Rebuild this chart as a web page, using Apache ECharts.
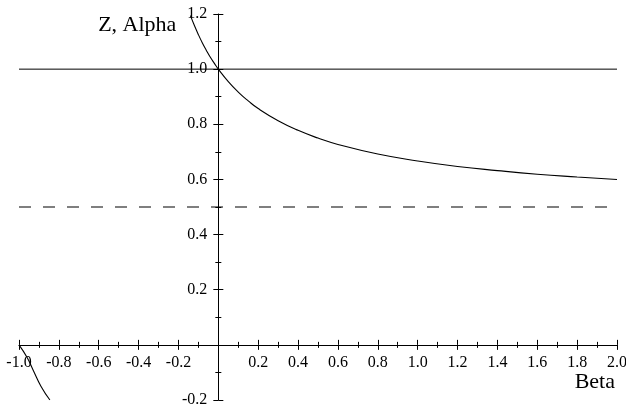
<!DOCTYPE html>
<html>
<head>
<meta charset="utf-8">
<script src="https://cdn.jsdelivr.net/npm/echarts@6/dist/echarts.min.js"></script>
<style>
  html, body { margin: 0; padding: 0; background: #fff; }
  #chart { width: 626px; height: 408px; }
</style>
</head>
<body>
<div id="chart"></div>
<script>
// values
const betaRight = [-0.14, -0.12, -0.10, -0.08, -0.06, -0.04, -0.02, 0, 0.05, 0.10, 0.15, 0.20, 0.30, 0.40, 0.50, 0.60, 0.80, 1.00, 1.20, 1.40, 1.60, 1.80, 2.00]
const zRight = [1.194, 1.158, 1.125, 1.095, 1.068, 1.043, 1.021, 1.0, 0.955, 0.917, 0.885, 0.857, 0.813, 0.778, 0.75, 0.727, 0.692, 0.667, 0.647, 0.632, 0.619, 0.609, 0.60]
const betaLeft = [-1.00, -0.96, -0.93, -0.89, -0.845]
const zLeft = [0, -0.045, -0.09, -0.15, -0.20]
const alphaLevel = [1.0, 1.0]
const asymptote = [0.5, 0.5]
const betaSpan = [-1.0, 2.0]

const font = "'Liberation Serif', 'Times New Roman', serif"
const black = '#000'
const W = 626, H = 408
const G = { left: 19, right: 9, top: 14, bottom: 8 }
const xMin = -1, xMax = 2, yMin = -0.2, yMax = 1.2

// axes cross at the origin: place them with offsets instead of onZero
const plotW = W - G.left - G.right
const plotH = H - G.top - G.bottom
const zeroX = G.left + (0 - xMin) / (xMax - xMin) * plotW
const zeroY = G.top + (yMax - 0) / (yMax - yMin) * plotH

const pairs = (xs, ys) => xs.map((x, i) => [x, ys[i]])
const fmt = v => (Math.abs(v) < 1e-9 ? '' : v.toFixed(1))

const baseX = {
  type: 'value', min: xMin, max: xMax, interval: 0.2,
  splitLine: { show: false },
  axisLine: { onZero: false, lineStyle: { color: black, width: 1 } },
  minorTick: { show: true, splitNumber: 2, length: 3, lineStyle: { color: black } },
  axisTick: { length: 5, lineStyle: { color: black } }
}
const baseY = {
  type: 'value', min: yMin, max: yMax, interval: 0.2,
  splitLine: { show: false },
  axisLine: { onZero: false, lineStyle: { color: black, width: 1 } },
  minorTick: { show: true, splitNumber: 2, length: 3, lineStyle: { color: black } },
  axisTick: { length: 5, lineStyle: { color: black } }
}

const chart = echarts.init(document.getElementById('chart'))
chart.setOption({
  animation: false,
  backgroundColor: '#fff',
  grid: Object.assign({ outerBoundsMode: 'none', containLabel: false }, G),
  xAxis: [
    Object.assign({}, baseX, {
      position: 'bottom',
      offset: zeroY - (H - G.bottom),
      name: 'Beta',
      nameLocation: 'end',
      nameGap: 0,
      nameTextStyle: { fontFamily: font, fontSize: 22, color: black, align: 'right', verticalAlign: 'top', padding: [26, 2, 0, 0] },
      axisLabel: { formatter: fmt, margin: 10, fontFamily: font, fontSize: 16, color: black, showMinLabel: true, showMaxLabel: true, hideOverlap: false }
    }),
    Object.assign({}, baseX, {
      position: 'top',
      offset: G.top - zeroY,
      axisLine: { show: false, onZero: false },
      axisLabel: { show: false }
    })
  ],
  yAxis: [
    Object.assign({}, baseY, {
      position: 'left',
      offset: G.left - zeroX,
      name: 'Z, Alpha',
      nameLocation: 'end',
      nameGap: -11,
      nameTextStyle: { fontFamily: font, fontSize: 22, color: black, align: 'right', verticalAlign: 'middle', padding: [0, 42, 0, 0] },
      axisLabel: { formatter: fmt, margin: 11, fontFamily: font, fontSize: 16, color: black, showMinLabel: true, showMaxLabel: true, hideOverlap: false }
    }),
    Object.assign({}, baseY, {
      position: 'right',
      offset: zeroX - (W - G.right),
      axisLine: { show: false, onZero: false },
      axisLabel: { show: false }
    })
  ],
  series: [
    {
      type: 'line', data: pairs(betaSpan, alphaLevel), showSymbol: false, symbol: 'none',
      lineStyle: { color: black, width: 1 }, z: 3
    },
    {
      type: 'line', data: pairs(betaSpan, asymptote), showSymbol: false, symbol: 'none',
      lineStyle: { color: black, width: 1, type: [12, 12] }, z: 3
    },
    {
      type: 'line', data: pairs(betaRight, zRight), showSymbol: false, symbol: 'none',
      smooth: true,
      lineStyle: { color: black, width: 1.1 }, z: 4
    },
    {
      type: 'line', data: pairs(betaLeft, zLeft), showSymbol: false, symbol: 'none',
      smooth: true,
      lineStyle: { color: black, width: 1.1 }, z: 4
    }
  ]
})
</script>
</body>
</html>
